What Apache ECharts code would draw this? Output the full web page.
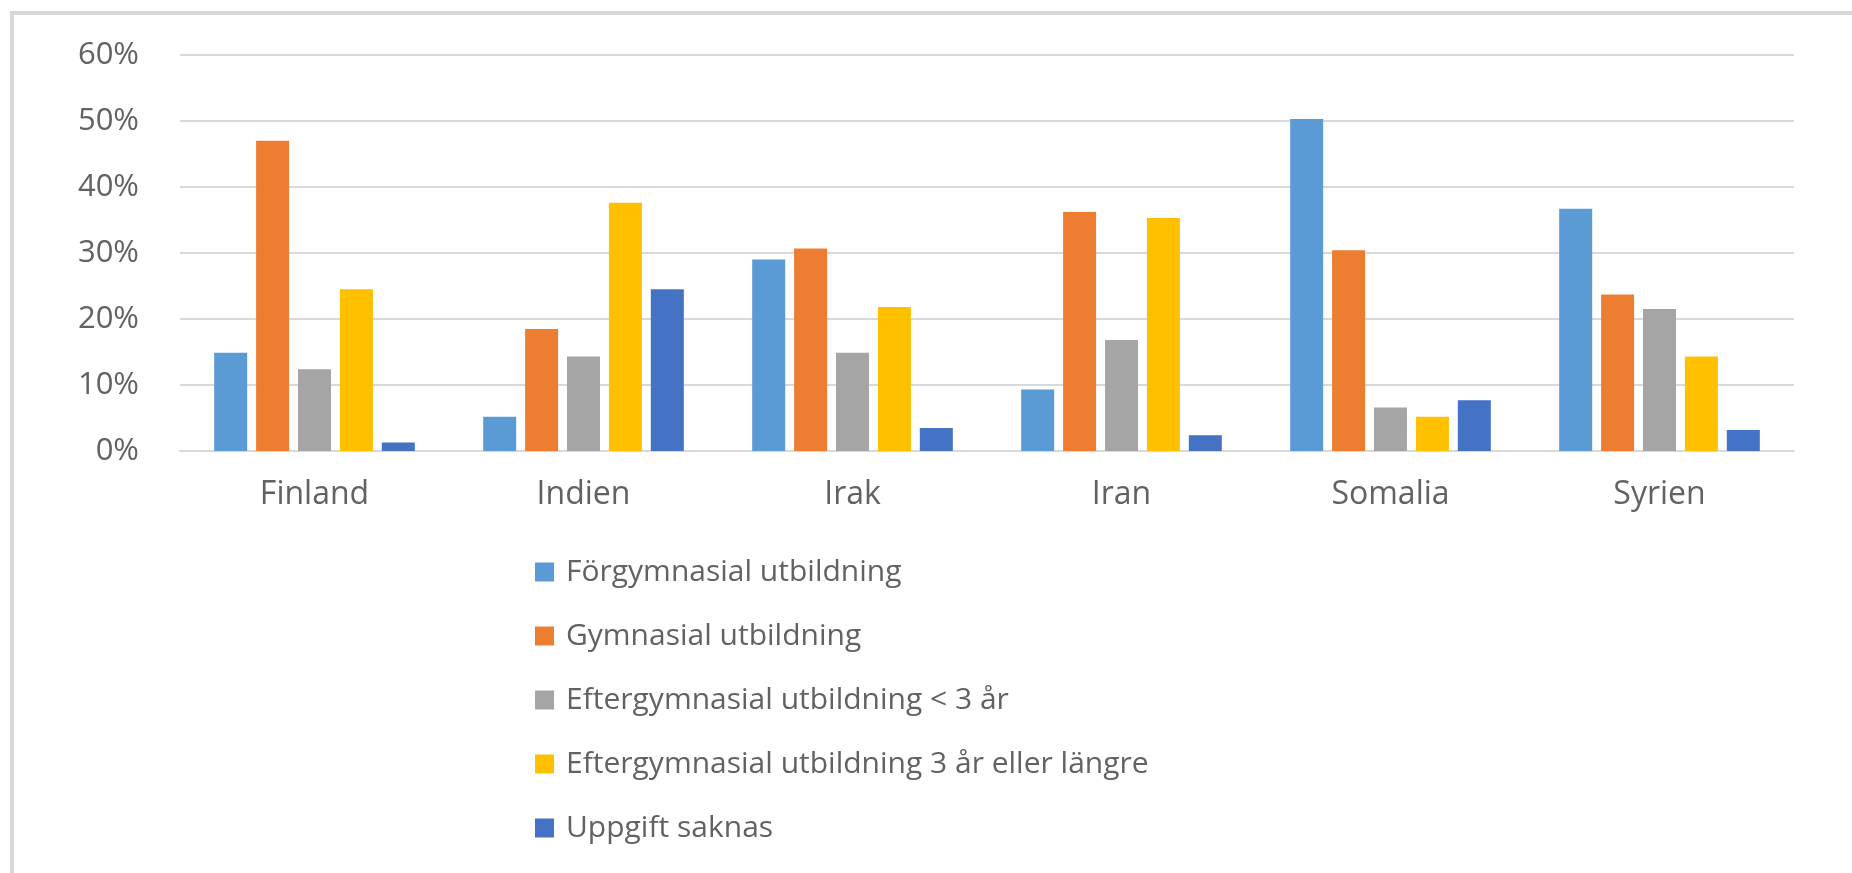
<!DOCTYPE html>
<html>
<head>
<meta charset="utf-8">
<script src="https://cdn.jsdelivr.net/npm/echarts@6/dist/echarts.min.js"></script>
<style>
  html, body { margin: 0; padding: 0; background: #fff; }
  #chart { width: 1852px; height: 873px; }
</style>
</head>
<body>
<div id="chart"></div>
<script>
// categories (countries)
const countries = ["Finland", "Indien", "Irak", "Iran", "Somalia", "Syrien"];
// share per education level, in percent
const forgymnasial = [14.9, 5.2, 29.0, 9.3, 50.3, 36.7];
const gymnasial = [47.0, 18.5, 30.7, 36.2, 30.4, 23.7];
const efterKort = [12.4, 14.3, 14.9, 16.8, 6.6, 21.5];
const efterLang = [24.5, 37.6, 21.8, 35.3, 5.2, 14.3];
const saknas = [1.3, 24.5, 3.5, 2.4, 7.7, 3.2];
const seriesNames = [
  "Förgymnasial utbildning",
  "Gymnasial utbildning",
  "Eftergymnasial utbildning < 3 år",
  "Eftergymnasial utbildning 3 år eller längre",
  "Uppgift saknas"
];
const colors = ["#5B9BD5", "#ED7D31", "#A5A5A5", "#FFC000", "#4472C4"];

const seriesData = [forgymnasial, gymnasial, efterKort, efterLang, saknas];
const textColor = "#626262";

const chart = echarts.init(document.getElementById("chart"));
chart.setOption({
  animation: false,
  textStyle: { fontFamily: "Open Sans" },
  graphic: [
    {
      // light frame, only top and left edges are in view
      type: "rect",
      shape: { x: 12, y: 13, width: 3000, height: 3000 },
      style: { fill: "none", stroke: "#d9d9d9", lineWidth: 4 },
      silent: true
    }
  ],
  grid: { left: 180, right: 58, top: 55, bottom: 422 },
  legend: {
    orient: "vertical",
    left: 530,
    top: 552,
    itemWidth: 19,
    itemHeight: 19,
    itemGap: 34,
    icon: "rect",
    textStyle: {
      color: textColor,
      fontSize: 30,
      lineHeight: 30,
      padding: [0, 0, 0, 7],
      fontFamily: "Open Sans"
    },
    data: seriesNames
  },
  xAxis: {
    type: "category",
    data: countries,
    axisLine: { lineStyle: { color: "#d9d9d9", width: 2 } },
    axisTick: { show: false },
    axisLabel: { color: textColor, fontSize: 32, margin: 28 }
  },
  yAxis: {
    type: "value",
    min: 0,
    max: 60,
    interval: 10,
    axisLine: { show: false },
    axisTick: { show: false },
    axisLabel: { color: textColor, fontSize: 31, margin: 41, formatter: "{value}%" },
    splitLine: { lineStyle: { color: "#d9d9d9", width: 2 } }
  },
  series: seriesNames.map((name, i) => ({
    name: name,
    type: "bar",
    data: seriesData[i],
    barWidth: 33,
    barGap: "27%",
    itemStyle: { color: colors[i] }
  }))
});
</script>
</body>
</html>
